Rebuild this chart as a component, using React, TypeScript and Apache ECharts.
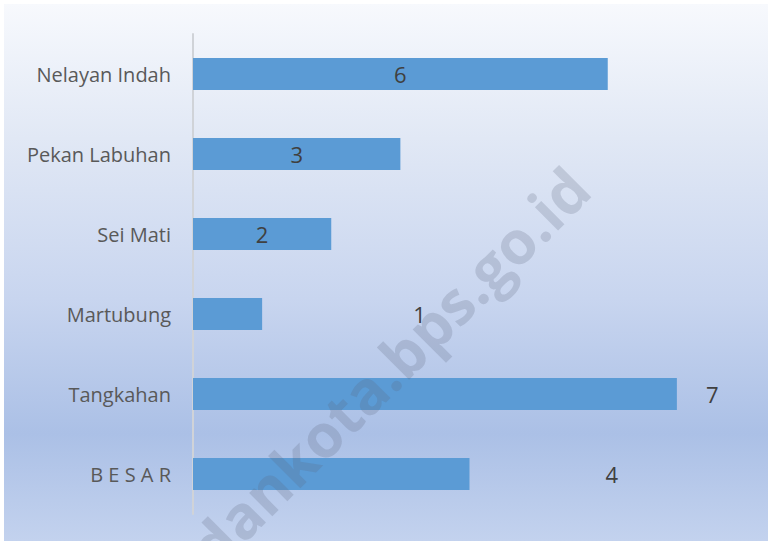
import React, { useEffect, useRef } from "react";
import * as echarts from "echarts";

const categories = ["Nelayan Indah", "Pekan Labuhan", "Sei Mati", "Martubung", "Tangkahan", "B E S A R"];
const values = [6, 3, 2, 1, 7, 4];
// label placement per bar, as in the original data labels
const labelModes = ["inside", "inside", "inside", "far", "near", "far2"];

export default function App() {
  const ref = useRef<HTMLDivElement>(null);
  useEffect(() => {
    if (!ref.current) return;
    const chart = echarts.init(ref.current, null, { renderer: "svg" });
    const data = values.map((v, i) => {
      const mode = labelModes[i];
      let label: any = { position: "inside" };
      if (mode === "far") label = { position: "right", distance: 0, offset: [151, 0] };
      if (mode === "near") label = { position: "right", distance: 0, offset: [29, 0] };
      if (mode === "far2") label = { position: "right", distance: 0, offset: [136, 0] };
      return { value: v, label };
    });
    chart.setOption({
      animation: false,
      backgroundColor: "#ffffff",
      graphic: [
        {
          type: "rect",
          z: -10,
          silent: true,
          shape: { x: 4, y: 4, width: 764, height: 537 },
          style: {
            fill: new echarts.graphic.LinearGradient(0, 0, 0, 1, [
              { offset: 0, color: "#f7f9fd" },
              { offset: 0.25, color: "#e1e8f5" },
              { offset: 0.55, color: "#c8d5ef" },
              { offset: 0.8, color: "#abc0e6" },
              { offset: 1, color: "#c3d2ee" },
            ]),
          },
        },
        {
          type: "text",
          z: 100,
          silent: true,
          x: 356,
          y: 400,
          rotation: Math.PI / 4,
          style: {
            text: "medankota.bps.go.id",
            fill: "rgba(90,100,125,0.22)",
            font: "bold 60px 'Open Sans', 'Noto Sans', sans-serif",
            align: "center",
            verticalAlign: "middle",
          },
        },
      ],
      grid: { left: 193, right: 22, top: 34, bottom: 27, containLabel: false },
      xAxis: {
        type: "value",
        min: 0,
        max: 8,
        show: false,
        splitLine: { show: false },
      },
      yAxis: {
        type: "category",
        data: categories,
        inverse: true,
        axisLine: { show: true, lineStyle: { color: "#d0d3d8", width: 2 } },
        axisTick: { show: false },
        axisLabel: {
          color: "#595959",
          fontSize: 20,
          fontFamily: "'Open Sans', 'Noto Sans', sans-serif",
          margin: 22,
        },
      },
      series: [
        {
          type: "bar",
          data,
          barCategoryGap: "60%",
          itemStyle: { color: "#5b9bd5" },
          label: {
            show: true,
            color: "#404040",
            fontSize: 22,
            fontFamily: "'Open Sans', 'Noto Sans', sans-serif",
          },
        },
      ],
    });
    return () => chart.dispose();
  }, []);
  return (
    <div
      ref={ref}
      style={{ position: "fixed", left: 0, top: 0, width: 768, height: 541 }}
    />
  );
}
